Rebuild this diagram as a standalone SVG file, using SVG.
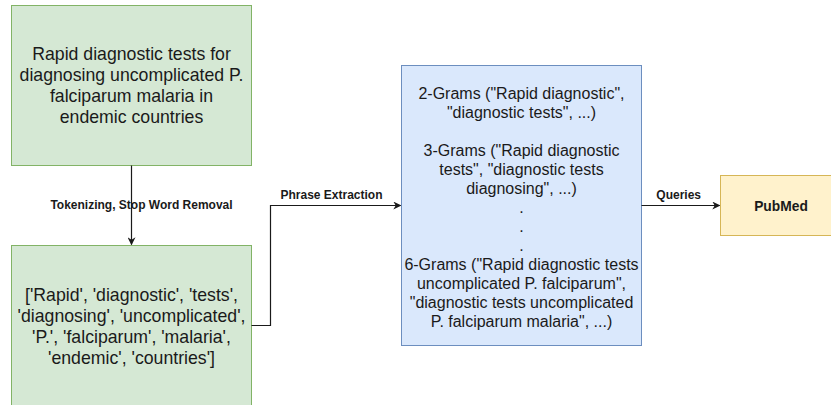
<svg xmlns="http://www.w3.org/2000/svg" width="831" height="405" viewBox="0 0 831 405">
<style>
.t{font-family:"Liberation Sans",Arial,sans-serif;fill:#1a1a1a;text-anchor:middle}
.big{font-size:17.7px}
.mid{font-size:16px}
.lbl{font-size:12px;font-weight:bold}
.edge{fill:none;stroke:#1a1a1a;stroke-width:1.2}
</style>
<defs>
<marker id="arr" viewBox="0 0 10 10" refX="9" refY="5" markerWidth="8" markerHeight="8" markerUnits="userSpaceOnUse" orient="auto">
<path d="M0,0 L10,5 L0,10 L3,5 Z" fill="#1a1a1a"/>
</marker>
</defs>
<rect width="831" height="405" fill="#ffffff"/>
<g id="title">
<rect x="11.5" y="5.5" width="240" height="160" fill="#d5e8d4" stroke="#82b366"/>
<text class="t big"><tspan x="131.5" y="59.8">Rapid diagnostic tests for</tspan><tspan x="131.5" y="80.7">diagnosing uncomplicated P.</tspan><tspan x="131.5" y="101.6">falciparum malaria in</tspan><tspan x="131.5" y="122.5">endemic countries</tspan></text>
</g>
<g id="tokens">
<rect x="11.5" y="245.5" width="240" height="160" fill="#d5e8d4" stroke="#82b366"/>
<text class="t big"><tspan x="131.5" y="300.8">['Rapid', 'diagnostic', 'tests',</tspan><tspan x="131.5" y="321.7">'diagnosing', 'uncomplicated',</tspan><tspan x="131.5" y="342.6">'P.', 'falciparum', 'malaria',</tspan><tspan x="131.5" y="363.5">'endemic', 'countries']</tspan></text>
</g>
<g id="ngrams">
<rect x="401.5" y="65.5" width="240" height="280" fill="#dae8fc" stroke="#6c8ebf"/>
<text class="t mid"><tspan x="521.5" y="99">2-Grams ("Rapid diagnostic",</tspan><tspan x="521.5" y="118">"diagnostic tests", ...)</tspan><tspan x="521.5" y="156">3-Grams ("Rapid diagnostic</tspan><tspan x="521.5" y="175">tests", "diagnostic tests</tspan><tspan x="521.5" y="194">diagnosing", ...)</tspan><tspan x="521.5" y="213">.</tspan><tspan x="521.5" y="232">.</tspan><tspan x="521.5" y="251">.</tspan><tspan x="521.5" y="270">6-Grams ("Rapid diagnostic tests</tspan><tspan x="521.5" y="289">uncomplicated P. falciparum",</tspan><tspan x="521.5" y="308">"diagnostic tests uncomplicated</tspan><tspan x="521.5" y="327">P. falciparum malaria", ...)</tspan></text>
</g>
<g id="pubmed">
<rect x="720.5" y="175.5" width="120" height="60" fill="#fff2cc" stroke="#d6b656"/>
<text class="t" style="font-size:13.8px;font-weight:bold" x="781" y="210.5">PubMed</text>
</g>
<g id="connectors">
<path class="edge" d="M131.5,165.5 V244.5" marker-end="url(#arr)"/>
<text class="t lbl" x="141.5" y="209.2">Tokenizing, Stop Word Removal</text>
<path class="edge" d="M251.5,325.5 H270.5 V205.5 H400.5" marker-end="url(#arr)"/>
<text class="t lbl" x="331.5" y="199.2">Phrase Extraction</text>
<path class="edge" d="M641.5,205.5 H719.5" marker-end="url(#arr)"/>
<text class="t lbl" x="678.7" y="198.7">Queries</text>
</g>
</svg>
